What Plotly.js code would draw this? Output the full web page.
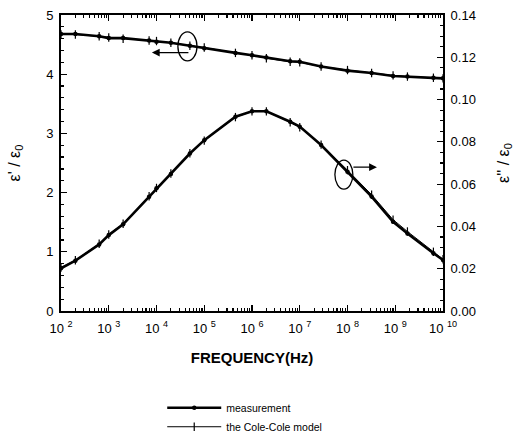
<!DOCTYPE html>
<html>
<head>
<meta charset="utf-8">
<script src="https://cdn.plot.ly/plotly-3.0.1.min.js"></script>
<style>html,body{margin:0;padding:0;background:#fff;}</style>
</head>
<body>
<div id="chart" style="width:514px;height:441px;"></div>
<script>
// Frequency (Hz)
const freq = [1e2, 2e2, 6.3e2, 1e3, 2e3, 7e3, 1e4, 2e4, 5e4, 1e5, 4.5e5, 1e6, 2e6, 6.3e6, 1e7, 2.8e7, 1e8, 3.2e8, 9e8, 1.8e9, 6.3e9, 1e10];
// Real part  eps'/eps0 (left axis)
const epsRealMeas  = [4.68, 4.68, 4.64, 4.61, 4.61, 4.57, 4.55, 4.53, 4.48, 4.44, 4.36, 4.32, 4.28, 4.22, 4.21, 4.13, 4.06, 4.02, 3.97, 3.96, 3.94, 3.93];
const epsRealModel = [4.67, 4.67, 4.64, 4.62, 4.60, 4.57, 4.56, 4.53, 4.48, 4.45, 4.36, 4.32, 4.27, 4.21, 4.20, 4.13, 4.07, 4.02, 3.98, 3.96, 3.94, 3.93];
// Imaginary part eps''/eps0 (right axis)
const epsImagMeas  = [0.0202, 0.0238, 0.0315, 0.0359, 0.0410, 0.0540, 0.0580, 0.0648, 0.0745, 0.0808, 0.0919, 0.0945, 0.0945, 0.0895, 0.0872, 0.0785, 0.0659, 0.0541, 0.0422, 0.0367, 0.0273, 0.0241];
const epsImagModel = [0.0205, 0.0240, 0.0318, 0.0362, 0.0413, 0.0543, 0.0582, 0.0650, 0.0746, 0.0806, 0.0917, 0.0944, 0.0944, 0.0893, 0.0869, 0.0787, 0.0666, 0.0550, 0.0432, 0.0376, 0.0280, 0.0245];
// Tick labels
const xTickVals = [1e2, 1e3, 1e4, 1e5, 1e6, 1e7, 1e8, 1e9, 1e10];
const xTickText = ['10 <sup>2</sup>','10 <sup>3</sup>','10 <sup>4</sup>','10 <sup>5</sup>','10 <sup>6</sup>','10 <sup>7</sup>','10 <sup>8</sup>','10 <sup>9</sup>','10 <sup>10</sup>'];

const FONT = 'Liberation Sans, Arial, Helvetica, sans-serif';

const measStyle = {mode:'lines+markers', line:{color:'#000', width:2.6}, marker:{symbol:'circle', size:4.5, color:'#000'}};
const modelStyle = {mode:'lines+markers', line:{color:'#000', width:1}, marker:{symbol:'line-ns', size:6, line:{color:'#000', width:1.2}}};

const traces = [
  Object.assign({x:freq, y:epsRealMeas, name:'measurement', legendgroup:'m', yaxis:'y'}, measStyle),
  Object.assign({x:freq, y:epsRealModel, name:'the Cole-Cole model', legendgroup:'c', yaxis:'y'}, modelStyle),
  Object.assign({x:freq, y:epsImagMeas, name:'measurement', legendgroup:'m', showlegend:false, yaxis:'y2'}, measStyle),
  Object.assign({x:freq, y:epsImagModel, name:'the Cole-Cole model', legendgroup:'c', showlegend:false, yaxis:'y2'}, modelStyle)
];

const layout = {
  width:514, height:441,
  margin:{l:61, r:71, t:15, b:130, autoexpand:false},
  paper_bgcolor:'#fff', plot_bgcolor:'#fff',
  font:{family:FONT, color:'#000', size:13},
  showlegend:true,
  legend:{x:0.265, y:-0.44, xanchor:'left', yanchor:'bottom', font:{size:10.5, family:FONT}, bgcolor:'rgba(0,0,0,0)', tracegroupgap:0, itemwidth:54},
  xaxis:{
    type:'log', range:[2,10], showgrid:false, zeroline:false,
    showline:true, linecolor:'#000', linewidth:2, mirror:'ticks',
    ticks:'inside', ticklen:6, tickwidth:1.2, tickcolor:'#000',
    tickvals:xTickVals, ticktext:xTickText, ticklabelstandoff:4,
    tickfont:{size:13, family:FONT},
    minor:{ticks:'inside', ticklen:3, tickcolor:'#000', dtick:'D1', showgrid:false},
    title:{text:'<b>FREQUENCY(Hz)</b>', font:{size:15, family:FONT}, standoff:18}
  },
  yaxis:{
    range:[0,5], dtick:1, showgrid:false, zeroline:false,
    showline:true, linecolor:'#000', linewidth:2,
    ticks:'inside', ticklen:6, tickwidth:1.2, tickcolor:'#000', ticklabelstandoff:3,
    tickfont:{size:13, family:FONT},
    minor:{ticks:'inside', ticklen:3, dtick:0.2, tickcolor:'#000', showgrid:false},
    title:{text:"ε' / ε<sub>0</sub>", font:{size:16, family:FONT}, standoff:22}
  },
  yaxis2:{
    overlaying:'y', side:'right', range:[0,0.14], dtick:0.02, tickformat:'.2f',
    showgrid:false, zeroline:false,
    showline:true, linecolor:'#000', linewidth:2,
    ticks:'inside', ticklen:6, tickwidth:1.2, tickcolor:'#000', ticklabelstandoff:3,
    tickfont:{size:13, family:FONT},
    minor:{ticks:'inside', ticklen:3, dtick:0.005, tickcolor:'#000', showgrid:false},
    title:{text:"ε'' / ε<sub>0</sub>", font:{size:16, family:FONT}, standoff:24}
  },
  shapes:[
    {type:'circle', xref:'paper', yref:'paper', x0:0.306, x1:0.356, y0:0.845, y1:0.943, line:{color:'#000', width:1.3}},
    {type:'circle', xref:'paper', yref:'paper', x0:0.717, x1:0.764, y0:0.412, y1:0.510, line:{color:'#000', width:1.3}}
  ],
  annotations:[
    {xref:'paper', yref:'paper', x:0.238, y:0.873, ax:38, ay:0, text:'', showarrow:true, arrowhead:2, arrowsize:1.2, arrowwidth:1.3, arrowcolor:'#000'},
    {xref:'paper', yref:'paper', x:0.827, y:0.486, ax:-25, ay:0, text:'', showarrow:true, arrowhead:2, arrowsize:1.2, arrowwidth:1.3, arrowcolor:'#000'}
  ]
};

Plotly.newPlot('chart', traces, layout, {displayModeBar:false, staticPlot:true});
</script>
</body>
</html>
